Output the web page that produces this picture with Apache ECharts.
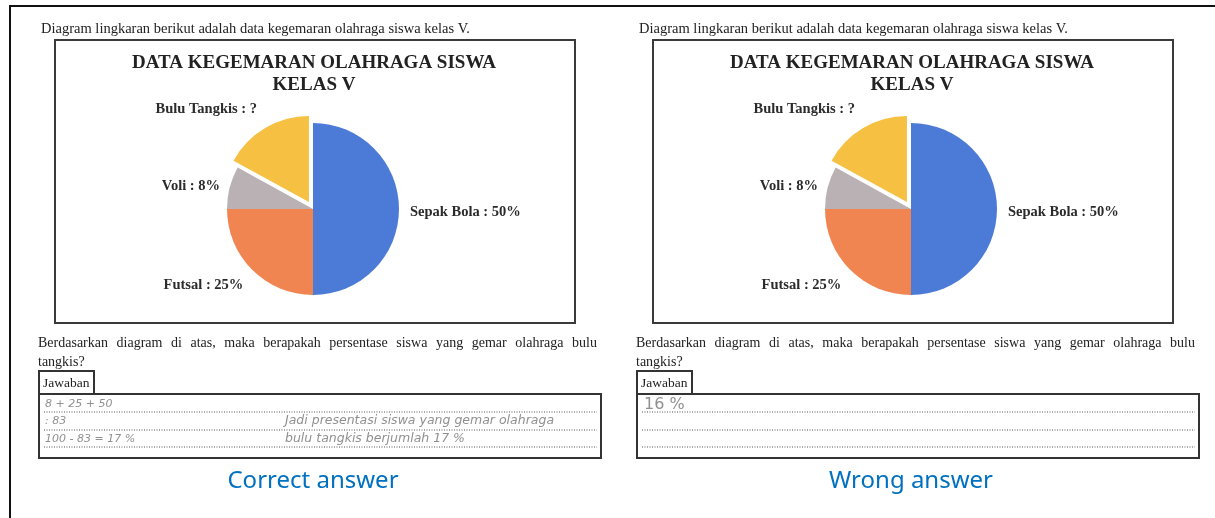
<!DOCTYPE html>
<html>
<head>
<meta charset="utf-8">
<script src="https://cdn.jsdelivr.net/npm/echarts@6/dist/echarts.min.js"></script>
<style>
  html, body { margin: 0; padding: 0; background: #ffffff; }
  #chart { width: 1215px; height: 518px; }
</style>
</head>
<body>
<div id="chart"></div>
<script>
// ---- data ----
const categories = ['Sepak Bola', 'Futsal', 'Voli', 'Bulu Tangkis'];
const values = [50, 25, 8, 17];
const labelTexts = ['Sepak Bola : 50%', 'Futsal : 25%', 'Voli : 8%', 'Bulu Tangkis : ?'];
const sliceColors = ['#4B7BD6', '#F08552', '#B9B1B3', '#F6C143'];
const chartTitleLines = ['DATA KEGEMARAN OLAHRAGA SISWA', 'KELAS V'];
const introText = 'Diagram lingkaran berikut adalah data kegemaran olahraga siswa kelas V.';
const questionLines = ['Berdasarkan diagram di atas, maka berapakah persentase siswa yang gemar olahraga bulu', 'tangkis?'];
const answerLabel = 'Jawaban';
const captions = ['Correct answer', 'Wrong answer'];
const leftHandwriting = ['8 + 25 + 50', ': 83', '100 - 83 = 17 %'];
const leftHandwritingRight = ['Jadi presentasi siswa yang gemar olahraga', 'bulu tangkis berjumlah 17 %'];
const rightHandwriting = ['16 %'];
const selectedCategory = 'Bulu Tangkis';

// ---- layout (styles / positions) ----
const panelShift = [0, 598];
const pieCenter = [313, 209];
const pieRadius = 86;
// per-slice label placement (labelLine lengths used only for positioning)
const labelLen = [6, 21, 10, 22];
const labelLen2 = [5, -6, 0, -3];
const labelDy = [3, 1, 1, 0];

const serif = '"Liberation Serif", "Times New Roman", serif';

function pieSeries(shift) {
  return {
    type: 'pie',
    center: [pieCenter[0] + shift, pieCenter[1]],
    radius: pieRadius,
    startAngle: 90,
    clockwise: true,
    avoidLabelOverlap: false,
    selectedMode: 'single',
    selectedOffset: 8,
    animation: false,
    silent: true,
    emphasis: { disabled: true },
    itemStyle: { borderWidth: 0 },
    label: {
      show: true,
      position: 'outside',
      distanceToLabelLine: 0,
      fontFamily: serif,
      fontWeight: 'bold',
      fontSize: 14.5,
      color: '#2b2b2b',
      formatter: (p) => labelTexts[p.dataIndex]
    },
    labelLine: { show: false },
    labelLayout: (p) => ({ dy: labelDy[p.dataIndex] }),
    data: categories.map((c, i) => ({
      name: c,
      value: values[i],
      selected: c === selectedCategory,
      itemStyle: { color: sliceColors[i] },
      select: { itemStyle: { color: sliceColors[i], borderWidth: 0 }, label: { color: '#2b2b2b' } },
      labelLine: { show: false, length: labelLen[i], length2: labelLen2[i] }
    }))
  };
}

function txt(x, y, text, style) {
  return { type: 'text', x: x, y: y, silent: true,
    style: Object.assign({ text: text, fill: '#222', fontFamily: serif, fontSize: 14, textVerticalAlign: 'middle' }, style) };
}
function rect(x, y, w, h, lw, stroke) {
  return { type: 'rect', silent: true, shape: { x: x, y: y, width: w, height: h },
    style: { fill: 'none', stroke: stroke || '#333', lineWidth: lw || 2 } };
}
function dotted(x1, x2, y) {
  return { type: 'line', silent: true, shape: { x1: x1, y1: y, x2: x2, y2: y },
    style: { stroke: '#555', lineWidth: 1, lineDash: [1, 1.5] } };
}

// justified line of text: words spread across the given width
const measureCtx = document.createElement('canvas').getContext('2d');
function justified(x, y, width, text, fontSize) {
  measureCtx.font = fontSize + 'px "Liberation Serif"';
  const words = text.split(' ');
  const widths = words.map(w => measureCtx.measureText(w).width);
  const total = widths.reduce((a, b) => a + b, 0);
  const gap = (width - total) / (words.length - 1);
  const out = [];
  let cx = x;
  words.forEach((w, i) => {
    out.push(txt(cx, y, w, { fontSize: fontSize }));
    cx += widths[i] + gap;
  });
  return out;
}

const hwStyle = { fill: '#909090', fontFamily: '"DejaVu Sans", sans-serif', fontStyle: 'italic', fontSize: 11 };

function panel(idx) {
  const children = [
    txt(41, 29, introText, { fontSize: 14.5 }),
    rect(55, 40, 520, 283, 2, '#3a3a3a'),
    txt(314, 63, chartTitleLines[0], { fontSize: 19, fontWeight: 'bold', textAlign: 'center' }),
    txt(314, 85, chartTitleLines[1], { fontSize: 19, fontWeight: 'bold', textAlign: 'center' })
  ].concat(justified(38, 343, 559, questionLines[0], 14)).concat([
    txt(38, 362, questionLines[1], { fontSize: 14 }),
    rect(39, 371, 55, 23, 2, '#333'),
    txt(43, 383, answerLabel, { fontSize: 13.5 }),
    rect(39, 394, 562, 64, 2, '#333'),
    dotted(44, 597, 412),
    dotted(44, 597, 430),
    dotted(44, 597, 447),
    { type: 'text', x: 313, y: 481, silent: true,
      style: { text: captions[idx], fill: '#0070C0', fontFamily: '"Noto Sans", sans-serif', fontSize: 24,
               textAlign: 'center', textVerticalAlign: 'middle' } }
  ]);
  if (idx === 0) {
    leftHandwriting.forEach((t, i) => children.push(txt(45, 404 + i * 17.5, t, hwStyle)));
    leftHandwritingRight.forEach((t, i) => children.push(txt(285, 421 + i * 18, t, Object.assign({}, hwStyle, { fontSize: 12.5 }))));
  } else {
    rightHandwriting.forEach((t, i) => children.push(txt(46, 405, t, Object.assign({}, hwStyle, { fontSize: 16, fontStyle: 'normal' }))));
  }
  return { type: 'group', x: panelShift[idx], y: 0, children: children };
}

const chart = echarts.init(document.getElementById('chart'), null, { renderer: 'canvas' });
chart.setOption({
  backgroundColor: '#ffffff',
  animation: false,
  series: [pieSeries(panelShift[0]), pieSeries(panelShift[1])],
  graphic: [
    { type: 'line', silent: true, shape: { x1: 9, y1: 6, x2: 1215, y2: 6 }, style: { stroke: '#111', lineWidth: 2 } },
    { type: 'line', silent: true, shape: { x1: 10, y1: 5, x2: 10, y2: 518 }, style: { stroke: '#111', lineWidth: 2 } },
    panel(0),
    panel(1)
  ]
});
</script>
</body>
</html>
